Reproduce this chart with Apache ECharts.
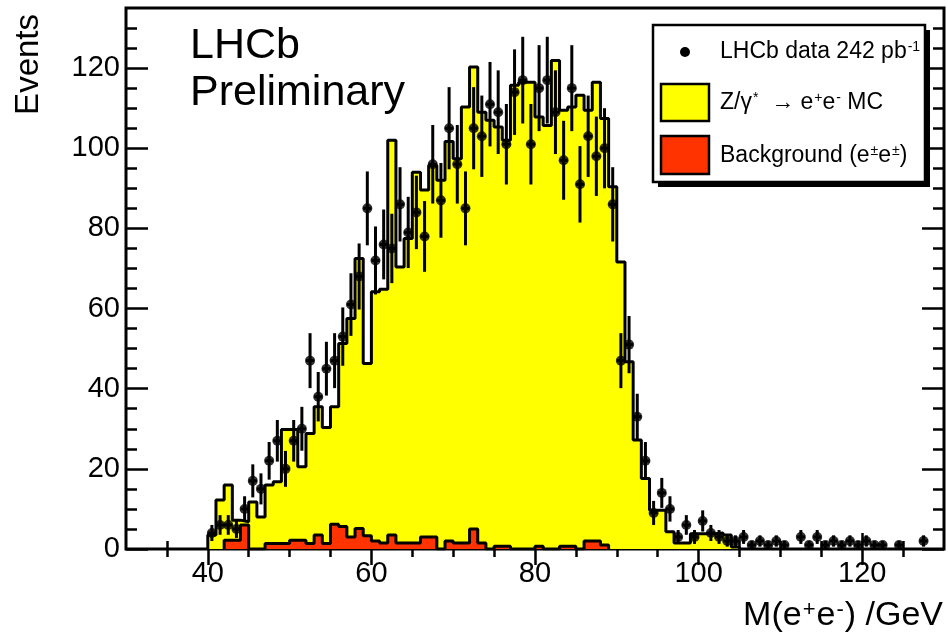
<!DOCTYPE html>
<html><head><meta charset="utf-8">
<script src="https://cdn.jsdelivr.net/npm/echarts@6/dist/echarts.min.js"></script>
<style>html,body{margin:0;padding:0;background:#fff}#c{width:948px;height:640px}</style>
</head><body><div id="c"></div>
<script>
// ---- data (1 GeV bins) ----
const binWidth = 1;
const mcLow = 40;   // lower edge of first MC bin
const mcValues = [3.5, 12.2, 16, 7.2, 6.8, 11.7, 8, 16, 16.8, 29.8,
  29.8, 20.5, 28.8, 35.5, 30.3, 35.5, 51.3, 57.5, 72.5, 46.3,
  64.2, 64.8, 102, 70.4, 77.5, 94, 89.6, 95.7, 92, 101.7,
  97.4, 110.3, 120.3, 109, 107, 105.3, 102, 115.7, 116.5, 116.5,
  107.8, 105.7, 121.9, 109.5, 110.3, 113.2, 109.5, 116.5, 107.4, 90.4,
  71.6, 46.7, 27.2, 17.6, 9.7, 9.7, 4.3, 1.5, 1.5, 3.8,
  3.8, 3.8, 4, 3.5, 0.5];
const bkgLow = 42;
const bkgValues = [2.2, 2.2, 6, 0, 0, 1.4, 1.4, 1.4, 2.2, 2.2,
  1.4, 3.5, 1.4, 6.2, 5.6, 3, 5.1, 3.3, 2, 1.5,
  3.5, 1.5, 1.5, 1.5, 3, 3, 0, 2, 1.5, 1.5,
  5, 1.5, 0, 0.7, 0.7, 0, 0, 0, 0.7, 0,
  0, 0.7, 0.7, 0, 2, 2, 1];
const dataLow = 40;
const dataValues = [4, 6, 6, 5, 10, 17, 15, 22, 27, 20,
  27, 30, 47, 38, 45, 47, 53, 61, 68, 85,
  72, 76, 75, 86, 79, 84, 78, 96, 87, 105,
  96, 85, 105, 103, 111, 109, 101, 114, 117, 101,
  115, 117, 109, 97, 115, 91, 103, 98, 100, 86,
  47, 51, 33, 22, 9, 14, 10, 3, 6, 3,
  7, 4, 3, 2, 2, 3, 1, 2, 1, 2,
  1, 0, 3, 1, 3, 1, 2, 1, 2, 1,
  2, 1, 1, 0, 1, 0, 0, 2, 0, 0];
const xMin = 30, xMax = 130, yMin = 0, yMax = 135;
const xMajorTicks = [40, 60, 80, 100, 120];
const xMinorTicks = [35, 45, 50, 55, 65, 70, 75, 85, 90, 95, 105, 110, 115, 125];
const yMajorTicks = [0, 20, 40, 60, 80, 100, 120];
const yMinorTicks = [5, 10, 15, 25, 30, 35, 45, 50, 55, 65, 70, 75, 85, 90, 95, 105, 110, 115, 125, 130];
const legendLabels = ['LHCb data 242 pb{s|-1}', 'Z/γ{s|*}  → e{s|+}e{s|-} MC', 'Background (e{s|±}e{s|±})'];

// ---- helpers ----
function stepPoints(low, vals) {
  const pts = [[low, 0]];
  vals.forEach((v, i) => pts.push([low + i * binWidth, v]));
  const end = low + vals.length * binWidth;
  pts.push([end, vals[vals.length - 1]]);
  pts.push([end, 0]);
  return pts;
}
const dataPts = dataValues.map((v, i) => [dataLow + (i + 0.5) * binWidth, v]).filter(p => p[1] > 0);

const font = "'Liberation Sans', Arial, Helvetica, sans-serif";
function xAx(pos, ticks, len, labels) {
  return {
    type: 'value', min: xMin, max: xMax, position: pos,
    axisLine: { show: false }, splitLine: { show: false },
    axisTick: { show: true, inside: true, length: len, customValues: ticks, lineStyle: { color: '#000', width: 2.5 } },
    axisLabel: labels ? { show: true, customValues: labels, color: '#000', fontSize: 29, fontFamily: font, margin: 10 } : { show: false }
  };
}
function yAx(pos, ticks, len, labels) {
  return {
    type: 'value', min: yMin, max: yMax, position: pos,
    axisLine: { show: false }, splitLine: { show: false },
    axisTick: { show: true, inside: true, length: len, customValues: ticks, lineStyle: { color: '#000', width: 2.5 } },
    axisLabel: labels ? { show: true, customValues: labels, color: '#000', fontSize: 29, fontFamily: font, margin: 6 } : { show: false }
  };
}

const chart = echarts.init(document.getElementById('c'), null, { renderer: 'canvas' });
const supRich = { s: { fontSize: 14, fontFamily: font, color: '#000', verticalAlign: 'top', padding: [0, 0, 0, 1] } };
chart.setOption({
  animation: false,
  backgroundColor: '#fff',
  grid: { left: 126, right: 4, top: 8, bottom: 91, show: true, borderColor: '#000', borderWidth: 3, backgroundColor: 'transparent' },
  xAxis: [
    xAx('bottom', xMajorTicks, 16, xMajorTicks),
    xAx('bottom', xMinorTicks, 8, null),
    xAx('top', xMajorTicks, 16, null),
    xAx('top', xMinorTicks, 8, null)
  ],
  yAxis: [
    yAx('left', yMajorTicks, 22, yMajorTicks),
    yAx('left', yMinorTicks, 11, null),
    yAx('right', yMajorTicks, 22, null),
    yAx('right', yMinorTicks, 11, null)
  ],
  series: [
    {
      name: 'Z/γ* → e+e- MC', type: 'line', step: 'end', data: stepPoints(mcLow, mcValues),
      symbol: 'none', silent: true, z: 2,
      lineStyle: { color: '#000', width: 3 },
      areaStyle: { color: '#ffff00', opacity: 1 }
    },
    {
      name: 'Background', type: 'line', step: 'end', data: stepPoints(bkgLow, bkgValues),
      symbol: 'none', silent: true, z: 3,
      lineStyle: { color: '#000', width: 3 },
      areaStyle: { color: '#ff3300', opacity: 1 }
    },
    {
      name: 'errors', type: 'custom', data: dataPts, z: 4, clip: true, silent: true,
      renderItem: function (params, api) {
        const x = api.value(0), y = api.value(1), e = Math.sqrt(y);
        const t = api.coord([x, y + e]), b = api.coord([x, Math.max(0, y - e)]);
        const l = api.coord([x - binWidth / 2, y]), r = api.coord([x + binWidth / 2, y]);
        const st = { stroke: '#000', lineWidth: 3 };
        return { type: 'group', children: [
          { type: 'line', shape: { x1: t[0], y1: t[1], x2: b[0], y2: b[1] }, style: st },
          { type: 'line', shape: { x1: l[0], y1: l[1], x2: r[0], y2: r[1] }, style: st }
        ] };
      }
    },
    {
      name: 'LHCb data', type: 'scatter', data: dataPts, symbol: 'circle', symbolSize: 10, z: 5, silent: true,
      itemStyle: { color: '#000' }
    }
  ],
  graphic: [
    { type: 'text', x: 190, y: 25, z: 10, style: { text: 'LHCb', font: '43px ' + font, fill: '#000', verticalAlign: 'top' } },
    { type: 'text', x: 190, y: 72, z: 10, style: { text: 'Preliminary', font: '43px ' + font, fill: '#000', verticalAlign: 'top' } },
    { type: 'text', x: 29, y: 14, rotation: Math.PI / 2, z: 10, style: { text: 'Events', font: '33px ' + font, fill: '#000', align: 'right', verticalAlign: 'middle' } },
    { type: 'text', x: 943, y: 616, z: 10, style: { text: 'M(e{s|+}e{s|-}) /GeV', font: '34px ' + font, fill: '#000', align: 'right', verticalAlign: 'middle',
        rich: { s: { fontSize: 22, fontFamily: font, fill: '#000', verticalAlign: 'top', padding: [0, 1, 0, 1] } } } },
    // legend
    { type: 'rect', z: 20, shape: { x: 658, y: 30, width: 272, height: 157 }, style: { fill: '#000' } },
    { type: 'rect', z: 21, shape: { x: 653, y: 25, width: 272, height: 157 }, style: { fill: '#fff', stroke: '#000', lineWidth: 2.5 } },
    { type: 'circle', z: 22, shape: { cx: 685, cy: 52, r: 5 }, style: { fill: '#000' } },
    { type: 'rect', z: 22, shape: { x: 661, y: 84, width: 48, height: 37 }, style: { fill: '#ffff00', stroke: '#000', lineWidth: 2.5 } },
    { type: 'rect', z: 22, shape: { x: 661, y: 136, width: 48, height: 38 }, style: { fill: '#ff3300', stroke: '#000', lineWidth: 2.5 } },
    { type: 'text', z: 22, x: 720, y: 52, style: { text: legendLabels[0], font: '23px ' + font, fill: '#000', verticalAlign: 'middle', rich: supRich } },
    { type: 'text', z: 22, x: 720, y: 103, style: { text: legendLabels[1], font: '23px ' + font, fill: '#000', verticalAlign: 'middle', rich: supRich } },
    { type: 'text', z: 22, x: 720, y: 156, style: { text: legendLabels[2], font: '23px ' + font, fill: '#000', verticalAlign: 'middle', rich: supRich } }
  ]
});
</script>
</body></html>
